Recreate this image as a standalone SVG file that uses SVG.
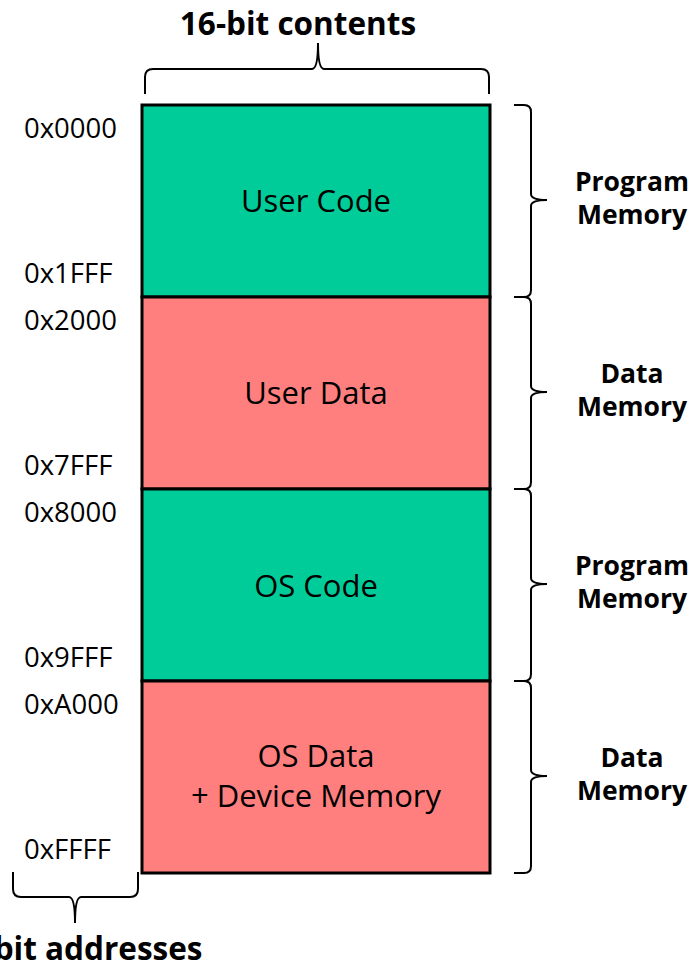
<svg xmlns="http://www.w3.org/2000/svg" width="694" height="965" viewBox="0 0 694 965">
  <style>
    .blk { stroke: #000; stroke-width: 3; }
    .code { fill: #00CC99; }
    .data { fill: #FF7F7F; }
    .brace { fill: none; stroke: #000; stroke-width: 2; }
    text { font-family: "Open Sans", "Noto Sans", sans-serif; fill: #000; }
    .addr { font-size: 27.5px; }
    .lbl { font-size: 31px; text-anchor: middle; }
    .side { font-size: 26.5px; font-weight: bold; text-anchor: middle; }
    .title { font-size: 31.5px; font-weight: bold; text-anchor: middle; }
  </style>

  <!-- memory regions -->
  <g id="user-code">
    <rect class="blk code" x="142" y="105" width="348" height="192"/>
    <text class="lbl" x="316" y="212">User Code</text>
  </g>
  <g id="user-data">
    <rect class="blk data" x="142" y="297" width="348" height="192"/>
    <text class="lbl" x="316" y="404">User Data</text>
  </g>
  <g id="os-code">
    <rect class="blk code" x="142" y="489" width="348" height="192"/>
    <text class="lbl" x="316" y="597">OS Code</text>
  </g>
  <g id="os-data">
    <rect class="blk data" x="142" y="681" width="348" height="192"/>
    <text class="lbl" x="316" y="767">OS Data</text>
    <text class="lbl" x="316" y="807">+ Device Memory</text>
  </g>

  <!-- address labels -->
  <g id="addresses">
    <text class="addr" x="24" y="138">0x0000</text>
    <text class="addr" x="24" y="283">0x1FFF</text>
    <text class="addr" x="24" y="330">0x2000</text>
    <text class="addr" x="24" y="475">0x7FFF</text>
    <text class="addr" x="24" y="522">0x8000</text>
    <text class="addr" x="24" y="667">0x9FFF</text>
    <text class="addr" x="24" y="714">0xA000</text>
    <text class="addr" x="24" y="859">0xFFFF</text>
  </g>

  <!-- braces -->
  <g id="braces">
    <path class="brace" d="M145,94 V77 Q145,69 153,69 H312 Q318,69 318,43 Q318,69 324,69 H481 Q489,69 489,77 V94"/>
    <path class="brace" d="M13,872 V889 Q13,897 21,897 H69 Q75,897 75,923 Q75,897 81,897 H130 Q138,897 138,889 V872"/>
    <path class="brace" d="M514,105 H524 Q531,105 531,112 V194 Q531,200 547,200 Q531,200 531,206 V290 Q531,297 524,297 H514"/>
    <path class="brace" d="M514,297 H524 Q531,297 531,304 V386 Q531,392 547,392 Q531,392 531,398 V482 Q531,489 524,489 H514"/>
    <path class="brace" d="M514,489 H524 Q531,489 531,496 V578 Q531,584 547,584 Q531,584 531,590 V674 Q531,681 524,681 H514"/>
    <path class="brace" d="M514,681 H524 Q531,681 531,688 V770 Q531,776 547,776 Q531,776 531,782 V866 Q531,873 524,873 H514"/>
  </g>

  <!-- titles -->
  <g id="titles">
    <text class="title" x="298" y="35">16-bit contents</text>
    <text class="title" x="75" y="960">16-bit addresses</text>
    <text class="side" x="632" y="191">Program</text>
    <text class="side" x="632" y="224">Memory</text>
    <text class="side" x="632" y="383">Data</text>
    <text class="side" x="632" y="416">Memory</text>
    <text class="side" x="632" y="575">Program</text>
    <text class="side" x="632" y="608">Memory</text>
    <text class="side" x="632" y="767">Data</text>
    <text class="side" x="632" y="800">Memory</text>
  </g>
</svg>
